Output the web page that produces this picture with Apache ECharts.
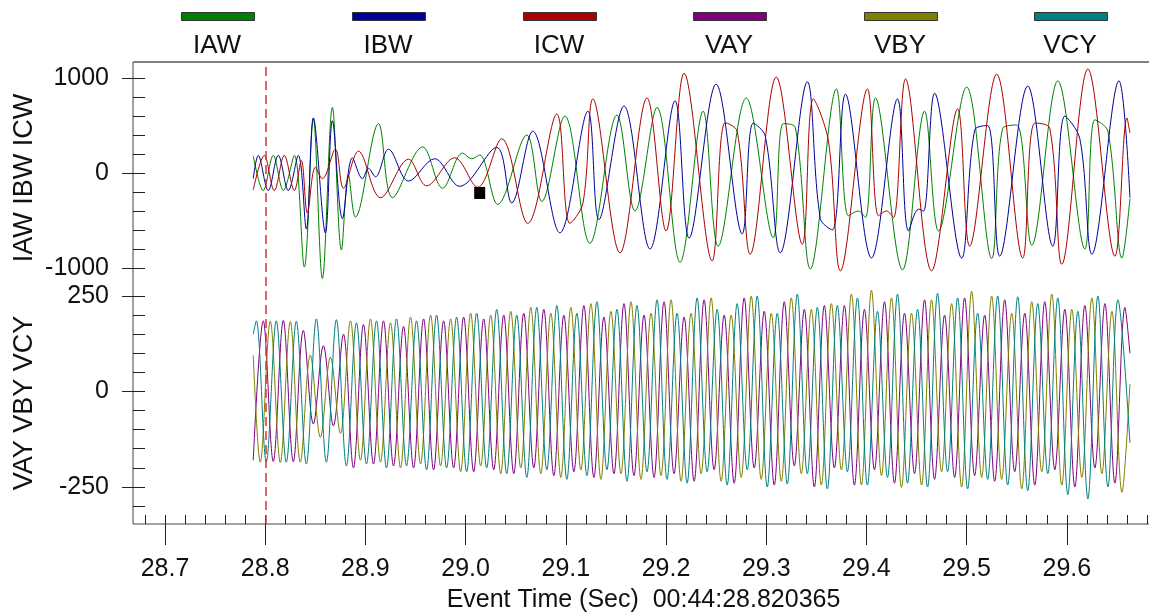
<!DOCTYPE html>
<html>
<head>
<meta charset="utf-8">
<title>IAW IBW ICW / VAY VBY VCY</title>
<script src="https://cdn.jsdelivr.net/npm/echarts@6/dist/echarts.min.js"></script>
<style>
html, body { margin: 0; padding: 0; background: #fff; overflow: hidden; }
#main { width: 1250px; height: 612px; }
</style>
</head>
<body>
<div id="main"></div>
<script>
// 通道名称与颜色
var seriesNames = ['IAW', 'IBW', 'ICW', 'VAY', 'VBY', 'VCY'];
var seriesColors = ['#008000', '#000099', '#aa0000', '#800080', '#808000', '#008080'];

// 事件时刻 (Sec) 与 光标位置
var eventTime = 28.796;
var cursorPoint = [29.014, -210];

// 电流 峰/谷值 [时间, 值]
var iawData = [[28.788,180],[28.798,-185],[28.808,185],[28.818,-185],[28.829,185],[28.839,-990],[28.848,570],[28.857,-1110],[28.867,690],[28.876,-810],[28.883,-20],[28.890,-465],[28.913,520],[28.927,-260],[28.957,275],[28.977,-160],[28.997,210],[29.006,150],[29.014,190],[29.032,-330],[29.061,400],[29.076,-300],[29.099,600],[29.124,-740],[29.151,610],[29.169,-400],[29.191,690],[29.214,-940],[29.237,650],[29.252,-770],[29.280,790],[29.307,-680],[29.317,520],[29.329,480],[29.344,-1010],[29.370,885],[29.382,-450],[29.392,-400],[29.399,-470],[29.409,790],[29.436,-1020],[29.458,650],[29.472,-610],[29.500,905],[29.525,-900],[29.536,470],[29.550,505],[29.565,-760],[29.591,970],[29.618,-800],[29.628,560],[29.641,440],[29.655,-895],[29.663,-270]];
var ibwData = [[28.788,-60],[28.793,185],[28.803,-185],[28.813,185],[28.823,-185],[28.833,185],[28.841,-590],[28.848,580],[28.860,-630],[28.867,550],[28.877,-480],[28.887,160],[28.897,-60],[28.903,50],[28.910,-40],[28.923,250],[28.943,-85],[28.969,150],[28.994,-140],[29.031,270],[29.046,-315],[29.067,440],[29.094,-630],[29.122,650],[29.133,-490],[29.158,705],[29.184,-800],[29.209,760],[29.223,-685],[29.250,935],[29.276,-640],[29.287,525],[29.299,390],[29.314,-840],[29.341,960],[29.354,-480],[29.366,-600],[29.379,830],[29.405,-895],[29.431,780],[29.442,-610],[29.452,-380],[29.457,-400],[29.468,840],[29.495,-895],[29.508,450],[29.521,500],[29.533,-875],[29.561,915],[29.586,-770],[29.598,600],[29.613,360],[29.625,-855],[29.652,970],[29.663,-260]];
var icwData = [[28.788,-180],[28.799,185],[28.809,-185],[28.819,185],[28.829,-185],[28.836,130],[28.842,-420],[28.850,60],[28.857,-60],[28.870,250],[28.878,-160],[28.893,230],[28.915,-260],[28.943,145],[28.961,-135],[28.989,160],[29.012,-150],[29.036,360],[29.062,-530],[29.091,620],[29.104,-530],[29.117,-320],[29.127,780],[29.154,-840],[29.181,790],[29.200,-610],[29.218,1050],[29.246,-925],[29.259,530],[29.271,440],[29.284,-855],[29.310,1010],[29.336,-750],[29.347,780],[29.362,340],[29.374,-1030],[29.401,885],[29.412,-450],[29.420,-400],[29.427,-470],[29.439,990],[29.465,-1030],[29.491,675],[29.503,-770],[29.530,1040],[29.556,-895],[29.568,525],[29.583,470],[29.595,-960],[29.621,1095],[29.648,-875],[29.660,580],[29.663,420]];

// 电压 峰/谷值 [时间, 值]
var vayData = [[28.788,-180],[28.798,185],[28.808,-183],[28.818,186],[28.828,-184],[28.838,160],[28.848,-85],[28.858,120],[28.868,-90],[28.878,150],[28.888,-200],[28.898,175],[28.908,-190],[28.918,185],[28.928,-195],[28.938,170],[28.948,-200],[28.958,190],[28.968,-205],[28.978,185],[28.988,-200],[28.998,195],[29.008,-210],[29.018,190],[29.028,-205],[29.038,200],[29.048,-215],[29.058,205],[29.068,-200],[29.078,215],[29.088,-220],[29.098,200],[29.108,-210],[29.118,225],[29.128,-225],[29.138,195],[29.148,-215],[29.158,230],[29.168,-220],[29.178,200],[29.188,-225],[29.198,235],[29.208,-215],[29.218,195],[29.228,-235],[29.238,240],[29.248,-205],[29.258,200],[29.268,-240],[29.278,245],[29.288,-200],[29.298,210],[29.308,-245],[29.318,235],[29.328,-195],[29.338,215],[29.348,-250],[29.358,225],[29.368,-200],[29.378,225],[29.388,-245],[29.398,215],[29.408,-205],[29.418,235],[29.428,-240],[29.438,205],[29.448,-215],[29.458,240],[29.468,-230],[29.478,200],[29.488,-225],[29.498,245],[29.508,-220],[29.518,200],[29.528,-235],[29.538,240],[29.548,-210],[29.558,205],[29.568,-245],[29.578,235],[29.588,-205],[29.598,215],[29.608,-250],[29.618,225],[29.628,-200],[29.638,230],[29.648,-240],[29.658,220],[29.663,100]];
var vbyData = [[28.788,95],[28.795,-185],[28.805,184],[28.815,-186],[28.825,183],[28.835,-185],[28.845,95],[28.855,-120],[28.865,90],[28.875,-110],[28.885,185],[28.895,-180],[28.905,190],[28.915,-185],[28.925,180],[28.935,-200],[28.945,195],[28.955,-190],[28.965,200],[28.975,-195],[28.985,190],[28.995,-210],[29.005,205],[29.015,-195],[29.025,200],[29.035,-215],[29.045,210],[29.055,-200],[29.065,220],[29.075,-215],[29.085,205],[29.095,-225],[29.105,220],[29.115,-205],[29.125,230],[29.135,-230],[29.145,210],[29.155,-215],[29.165,235],[29.175,-230],[29.185,205],[29.195,-220],[29.205,240],[29.215,-235],[29.225,205],[29.235,-215],[29.245,245],[29.255,-235],[29.265,200],[29.275,-225],[29.285,250],[29.295,-230],[29.305,205],[29.315,-235],[29.325,245],[29.335,-215],[29.345,215],[29.355,-245],[29.365,230],[29.375,-205],[29.385,255],[29.395,-245],[29.405,265],[29.415,-220],[29.425,245],[29.435,-251],[29.445,205],[29.455,-245],[29.465,240],[29.475,-210],[29.485,230],[29.495,-250],[29.505,262],[29.515,-225],[29.525,250],[29.535,-230],[29.545,205],[29.555,-255],[29.565,235],[29.575,-210],[29.585,255],[29.595,-245],[29.605,215],[29.615,-225],[29.625,245],[29.635,-215],[29.645,210],[29.655,-264],[29.663,20]];
var vcyData = [[28.788,150],[28.791,185],[28.801,-184],[28.811,185],[28.821,-185],[28.831,184],[28.841,-190],[28.851,190],[28.861,-185],[28.871,188],[28.881,-195],[28.891,180],[28.901,-190],[28.911,185],[28.921,-200],[28.931,190],[28.941,-195],[28.951,185],[28.961,-205],[28.971,200],[28.981,-200],[28.991,195],[29.001,-210],[29.011,205],[29.021,-200],[29.031,215],[29.041,-215],[29.051,200],[29.061,-225],[29.071,220],[29.081,-205],[29.091,225],[29.101,-230],[29.111,205],[29.121,-220],[29.131,235],[29.141,-205],[29.151,215],[29.161,-235],[29.171,225],[29.181,-210],[29.191,240],[29.201,-230],[29.211,205],[29.221,-240],[29.231,245],[29.241,-210],[29.251,215],[29.261,-245],[29.271,230],[29.281,-205],[29.291,250],[29.301,-250],[29.311,205],[29.321,-242],[29.331,255],[29.341,-215],[29.351,220],[29.361,-255],[29.371,225],[29.381,-210],[29.391,245],[29.401,-245],[29.411,210],[29.421,-225],[29.431,255],[29.441,-240],[29.451,215],[29.461,-250],[29.471,257],[29.481,-210],[29.491,245],[29.501,-255],[29.511,205],[29.521,-230],[29.531,250],[29.541,-245],[29.551,248],[29.561,-260],[29.571,230],[29.581,-215],[29.591,245],[29.601,-270],[29.611,210],[29.621,-281],[29.631,250],[29.641,-250],[29.651,240],[29.663,-135]];

var chartDom = document.getElementById('main');
var myChart = echarts.init(chartDom);

var FONT = 'Liberation Sans, Arial, sans-serif';
var xMinFrame = 28.668, xMaxFrame = 29.687;
var xMax = 29.69;

function waveSeries(name, data, color, xIdx, yIdx) {
    return {
        name: name,
        type: 'line',
        data: data,
        xAxisIndex: xIdx,
        yAxisIndex: yIdx,
        symbol: 'none',
        smooth: 0.35,
        clip: false,
        silent: true,
        lineStyle: { width: 1, color: color },
        itemStyle: { color: color }
    };
}

function hiddenX(grid, min) {
    return { type: 'value', gridIndex: grid, min: min, max: xMax, show: false };
}

// 图例: 色块在上, 文字在下
var legendX = [217, 388, 559, 729, 900, 1070];
var graphics = [];
for (var i = 0; i < seriesNames.length; i++) {
    graphics.push({
        type: 'rect', left: legendX[i] - 36, top: 12, silent: true,
        shape: { width: 73, height: 8 },
        style: { fill: seriesColors[i], stroke: '#333', lineWidth: 1 }
    });
    graphics.push({
        type: 'text', x: legendX[i], y: 46, silent: true,
        style: { text: seriesNames[i], font: '26px ' + FONT, fill: '#111', textAlign: 'center', textVerticalAlign: 'middle' }
    });
}
// 纵轴标题
graphics.push({
    type: 'text', x: 25, y: 178, rotation: Math.PI / 2, silent: true,
    style: { text: 'IAW IBW ICW', font: '27px ' + FONT, fill: '#111', textAlign: 'center', textVerticalAlign: 'middle' }
});
graphics.push({
    type: 'text', x: 25, y: 403, rotation: Math.PI / 2, silent: true,
    style: { text: 'VAY VBY VCY', font: '27px ' + FONT, fill: '#111', textAlign: 'center', textVerticalAlign: 'middle' }
});
// 上边框 (灰色)
graphics.push({
    type: 'line', silent: true, z: 10,
    shape: { x1: 133, y1: 62, x2: 1149, y2: 62 },
    style: { stroke: '#808080', lineWidth: 2 }
});

function plainLabel(v) { return String(v); }

var option = {
    animation: false,
    backgroundColor: '#fff',
    grid: [
        // 0 外框
        { left: 133, right: 96, top: 62, bottom: 88, outerBoundsMode: 'none', show: true, borderColor: '#444', borderWidth: 1 },
        // 1 主刻度 (0.1s)
        { left: 165, right: 93, top: 62, bottom: 88, outerBoundsMode: 'none' },
        // 2 次刻度 (0.02s)
        { left: 145, right: 93, top: 62, bottom: 88, outerBoundsMode: 'none' },
        // 3 电流
        { left: 133, right: 93, top: 78, bottom: 344, outerBoundsMode: 'none' },
        // 4 电压
        { left: 133, right: 93, top: 296, bottom: 125, outerBoundsMode: 'none' },
        // 5 电压次刻度
        { left: 133, right: 93, top: 296, bottom: 106, outerBoundsMode: 'none' }
    ],
    xAxis: [
        {
            type: 'value', gridIndex: 0, min: xMinFrame, max: xMaxFrame,
            axisLine: { show: false }, axisTick: { show: false }, axisLabel: { show: false }, splitLine: { show: false },
            name: 'Event Time (Sec)  00:44:28.820365', nameLocation: 'middle', nameGap: 64,
            nameTextStyle: { fontFamily: FONT, fontSize: 25, color: '#111' }
        },
        {
            type: 'value', gridIndex: 1, min: 28.7, max: xMax, interval: 0.1,
            axisLine: { show: false }, splitLine: { show: false },
            axisTick: { show: true, inside: false, length: 21, lineStyle: { color: '#222', width: 1 } },
            axisLabel: { show: true, margin: 33, fontFamily: FONT, fontSize: 25, color: '#111', showMaxLabel: false,
                formatter: function (v) { return v.toFixed(1); } }
        },
        {
            type: 'value', gridIndex: 2, min: 28.68, max: xMax, interval: 0.02,
            axisLine: { show: false }, splitLine: { show: false }, axisLabel: { show: false },
            axisTick: { show: true, inside: true, length: 9, lineStyle: { color: '#222', width: 1 } }
        },
        hiddenX(3, xMinFrame),
        hiddenX(4, xMinFrame),
        hiddenX(5, xMinFrame)
    ],
    yAxis: [
        { type: 'value', gridIndex: 0, min: 0, max: 1, show: false },
        { type: 'value', gridIndex: 1, min: 0, max: 1, show: false },
        { type: 'value', gridIndex: 2, min: 0, max: 1, show: false },
        {
            type: 'value', gridIndex: 3, position: 'left', min: -1000, max: 1000, interval: 1000,
            axisLine: { show: false }, splitLine: { show: false },
            axisTick: { show: true, inside: false, length: 11, lineStyle: { color: '#222', width: 1 } },
            axisLabel: { show: true, margin: 24, fontFamily: FONT, fontSize: 25, color: '#111', formatter: plainLabel }
        },
        {
            type: 'value', gridIndex: 3, position: 'left', offset: 0, min: -1000, max: 1000, interval: 200,
            axisLine: { show: false }, splitLine: { show: false }, axisLabel: { show: false },
            axisTick: { show: true, inside: true, length: 12, lineStyle: { color: '#222', width: 1 } }
        },
        {
            type: 'value', gridIndex: 4, position: 'left', min: -250, max: 250, interval: 250,
            axisLine: { show: false }, splitLine: { show: false },
            axisTick: { show: true, inside: false, length: 11, lineStyle: { color: '#222', width: 1 } },
            axisLabel: { show: true, margin: 24, fontFamily: FONT, fontSize: 25, color: '#111', formatter: plainLabel }
        },
        {
            type: 'value', gridIndex: 5, position: 'left', min: -300, max: 250, interval: 50,
            axisLine: { show: false }, splitLine: { show: false }, axisLabel: { show: false },
            axisTick: { show: true, inside: true, length: 12, lineStyle: { color: '#222', width: 1 } }
        }
    ],
    graphic: graphics,
    series: [
        {
            name: 'event',
            type: 'line',
            xAxisIndex: 0,
            yAxisIndex: 0,
            data: [],
            silent: true,
            itemStyle: { color: '#e03030' },
            lineStyle: { color: '#e03030' },
            markLine: {
                symbol: 'none',
                silent: true,
                label: { show: false },
                itemStyle: { color: '#e03030' },
                lineStyle: { color: '#e03030', type: [9, 5], width: 1.5, opacity: 1 },
                emphasis: { disabled: true },
                data: [{ xAxis: eventTime }]
            }
        },
        waveSeries('IAW', iawData, seriesColors[0], 3, 3),
        waveSeries('IBW', ibwData, seriesColors[1], 3, 3),
        waveSeries('ICW', icwData, seriesColors[2], 3, 3),
        waveSeries('VAY', vayData, seriesColors[3], 4, 5),
        waveSeries('VBY', vbyData, seriesColors[4], 4, 5),
        waveSeries('VCY', vcyData, seriesColors[5], 4, 5)
    ]
};

// 光标方块
option.series[2].markPoint = {
    symbol: 'rect',
    symbolSize: [11, 12],
    silent: true,
    label: { show: false },
    itemStyle: { color: '#000' },
    data: [{ coord: cursorPoint }]
};

// 使用刚指定的配置项和数据显示图表。
myChart.setOption(option);
</script>
</body>
</html>
